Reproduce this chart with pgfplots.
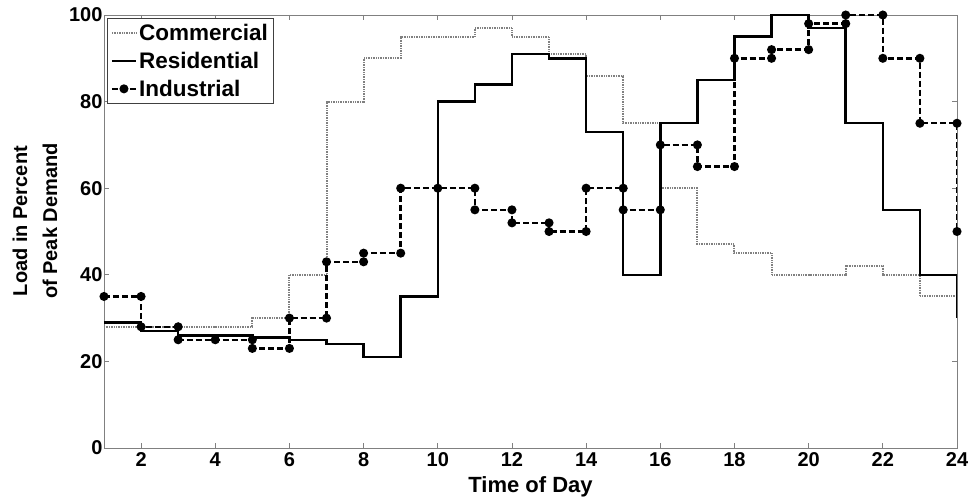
\documentclass[border=0pt]{standalone}
\usepackage{pgfplots}
\pgfplotsset{compat=1.18}
\usepackage{fontspec}
\setmainfont{Liberation Sans}
\begin{document}
\begin{tikzpicture}
\begin{axis}[
  scale only axis,
  width=853pt, height=433pt,
  xmin=1, xmax=24, ymin=0, ymax=100,
  xtick={2,4,...,24}, ytick={0,20,...,100},
  tick align=inside,
  major tick length=5pt,
  axis line style={draw=gray, line width=0.8pt},
  every tick/.style={draw=gray, line width=0.8pt},
  /pgf/number format/assume math mode=true,
  tick label style={font=\fontsize{20}{24}\selectfont\bfseries},
  xticklabel style={yshift=-1pt},
  yticklabel style={xshift=2pt},
  every axis x label/.style={at={(axis description cs:0.5,0)}, anchor=center, yshift=-39pt, font=\fontsize{22}{26}\selectfont\bfseries},
  every axis y label/.style={at={([xshift=-69pt]axis description cs:0,0.524)}, rotate=90, anchor=center, align=center, font=\fontsize{20}{30}\selectfont\bfseries},
  xlabel={Time of Day},
  ylabel={Load in Percent\\of Peak Demand},
  legend cell align=left,
  legend style={at={(axis description cs:0.004,0.993)}, anchor=north west, draw=darkgray, line width=0.6pt,
    font=\fontsize{22.5}{26}\selectfont\bfseries, inner xsep=3pt, inner ysep=4pt, row sep=6pt,
    /tikz/every even column/.append style={column sep=0pt}},
  legend image code/.code={\draw[mark repeat=2,mark phase=2,#1] plot coordinates {(0pt,0pt) (12pt,0pt) (24pt,0pt)};},
]
% Commercial
\addplot[const plot, color=gray, line width=2pt, dash pattern=on 0.8pt off 0.9pt] coordinates {
(1,28) (2,28) (3,28) (4,28) (5,30) (6,40) (7,80) (8,90) (9,95) (10,95) (11,97) (12,95)
(13,91) (14,86) (15,75) (16,60) (17,47) (18,45) (19,40) (20,40) (21,42) (22,40) (23,35) (24,30)};
\addlegendentry{Commercial}
% Residential
\addplot[const plot, color=black, line width=2.5pt] coordinates {
(1,29) (2,27) (3,26) (4,26) (5,25.5) (6,25) (7,24) (8,21) (9,35) (10,80) (11,84) (12,91)
(13,90) (14,73) (15,40) (16,75) (17,85) (18,95) (19,100) (20,97) (21,75) (22,55) (23,40) (24,30)};
\addlegendentry{Residential}
% Industrial
\addplot[color=black, line width=2.5pt, dash pattern=on 6pt off 3pt, mark=*, mark size=3.2pt, mark options={solid}] coordinates {
(1,35) (2,35) (2,28) (3,28) (3,25) (4,25) (5,25) (5,23) (6,23) (6,30) (7,30) (7,43) (8,43)
(8,45) (9,45) (9,60) (10,60) (11,60) (11,55) (12,55) (12,52) (13,52) (13,50) (14,50) (14,60)
(15,60) (15,55) (16,55) (16,70) (17,70) (17,65) (18,65) (18,90) (19,90) (19,92) (20,92)
(20,98) (21,98) (21,100) (22,100) (22,90) (23,90) (23,75) (24,75) (24,50)};
\addlegendentry{Industrial}
\end{axis}
\pgfresetboundingbox
\path ([xshift=-104pt,yshift=-53pt]current axis.south west) rectangle ([xshift=17pt,yshift=15pt]current axis.north east);
\end{tikzpicture}
\end{document}
